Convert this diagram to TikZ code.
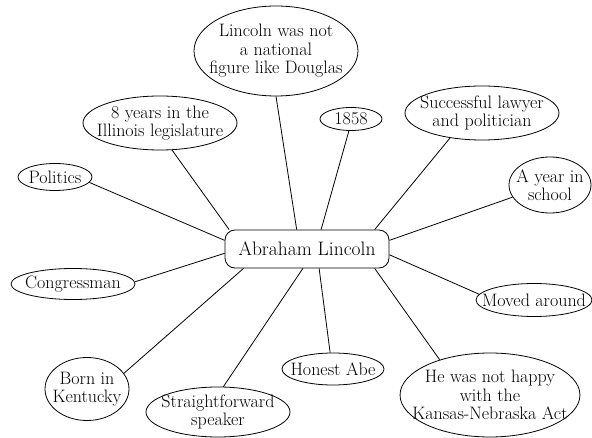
\documentclass[tikz,border=0pt]{standalone}
\usetikzlibrary{positioning, shapes.geometric}

\begin{document}
\begin{tikzpicture}
        [
            x=1pt, y=-1pt,
            hub/.style = {draw, black, line width=0.8pt, rounded corners=10pt, minimum width=164pt, minimum height=38pt, font=\fontsize{19.5}{20}\selectfont},
            bubble/.style 2 args = {draw, black, ellipse, line width=0.8pt, inner xsep=-14pt, inner ysep=-6pt, align=center, minimum width=#1pt, minimum height=#2pt, font=\fontsize{18}{18.5}\selectfont},
            spoke/.style = {black, line width=0.8pt}
        ]%
        \useasboundingbox (0,0) rectangle (592,438);
        \node[hub] (lincoln) at (307,249) {Abraham Lincoln};
        % ideas around the name
        \node[bubble={164}{90}] (national) at (276,51) {Lincoln was not\\a national\\figure like Douglas};
        \node[bubble={154}{54}] (legislature) at (160,123) {8 years in the\\Illinois legislature};
        \node[bubble={74}{27}] (politics) at (55,177) {Politics};
        \node[bubble={62}{23}] (year) at (351,119) {1858};
        \node[bubble={154}{54}] (lawyer) at (482,113) {Successful lawyer\\and politician};
        \node[bubble={82}{56}] (school) at (550,185) {A year in\\school};
        \node[bubble={124}{31}] (congress) at (73,284) {Congressman};
        \node[bubble={116}{33}] (moved) at (534,300) {Moved around};
        \node[bubble={84}{63}] (born) at (87,389) {Born in\\Kentucky};
        \node[bubble={144}{50}] (speaker) at (218,412) {Straightforward\\speaker};
        \node[bubble={102}{32}] (abe) at (333,369) {Honest Abe};
        \node[bubble={176}{84}] (kansas) at (490,395) {He was not happy\\with the\\Kansas-Nebraska Act};
        \draw[spoke] (lincoln.174) -- (politics.-9);
        \draw[spoke] (lincoln.166) -- (legislature.-66);
        \draw[spoke] (lincoln.118) -- (national.-90);
        \draw[spoke] (lincoln.54) -- (year.-100);
        \draw[spoke] (lincoln.16) -- (lawyer.-142);
        \draw[spoke] (lincoln.6) -- (school.198);
        \draw[spoke] (lincoln.183) -- (congress.2);
        \draw[spoke] (lincoln.-4) -- (moved.174);
        \draw[spoke] (lincoln.-16) -- (kansas.145);
        \draw[spoke] (lincoln.-58) -- (abe.100);
        \draw[spoke] (lincoln.-102) -- (speaker.78);
        \draw[spoke] (lincoln.-163) -- (born.23);
        \end{tikzpicture}
\end{document}
